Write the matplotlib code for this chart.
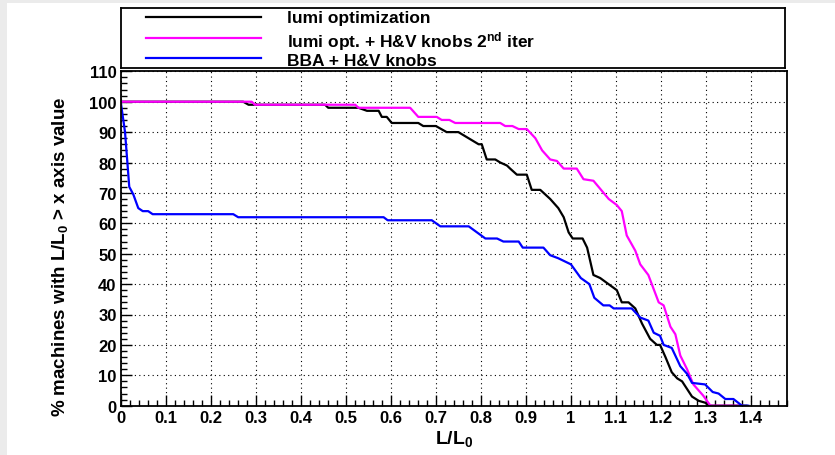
import numpy as np
import matplotlib.pyplot as plt
from matplotlib.patches import Rectangle
from matplotlib.ticker import MultipleLocator

plt.rcParams['font.family'] = ['Liberation Sans', 'DejaVu Sans']
plt.rcParams['font.weight'] = 'bold'
plt.rcParams['mathtext.fontset'] = 'custom'
plt.rcParams['mathtext.rm'] = 'Liberation Sans:bold'
plt.rcParams['mathtext.bf'] = 'Liberation Sans:bold'
plt.rcParams['mathtext.default'] = 'bf'

# lumi optimization
x_lumi = [0, 0.272, 0.284, 0.454, 0.461, 0.528, 0.547, 0.573, 0.58, 0.591, 0.602,
          0.661, 0.672, 0.700, 0.724, 0.75, 0.795, 0.802, 0.813, 0.832, 0.843, 0.858,
          0.865, 0.88, 0.902, 0.913, 0.932, 0.954, 0.972, 0.984, 0.995, 1.004, 1.026,
          1.036, 1.05, 1.065, 1.102, 1.113, 1.128, 1.143, 1.158, 1.176, 1.191, 1.198,
          1.21, 1.224, 1.236, 1.247, 1.269, 1.284, 1.298, 1.308, 1.39]
y_lumi = [100, 100, 99, 99, 98, 98, 97, 97, 95, 95, 93,
          93, 92, 92, 90, 90, 86, 86, 81, 81, 80, 79,
          78, 76, 76, 71, 71, 68, 65, 62, 57, 55, 55,
          52, 43, 42, 38, 34, 34, 32, 27, 22, 20, 20,
          16, 11, 9, 8, 3, 1.6, 1, 0, 0]

# lumi opt. + H&V knobs 2nd iter
x_iter2 = [0, 0.291, 0.298, 0.521, 0.528, 0.643, 0.661, 0.702, 0.713, 0.73, 0.743,
           0.843, 0.854, 0.87, 0.884, 0.902, 0.921, 0.936, 0.954, 0.969, 0.984, 1.013,
           1.028, 1.05, 1.084, 1.102, 1.113, 1.124, 1.143, 1.154, 1.172, 1.195, 1.206,
           1.221, 1.232, 1.243, 1.258, 1.272, 1.294, 1.31, 1.38]
y_iter2 = [100, 100, 99, 99, 98, 98, 95, 95, 94, 94, 93,
           93, 92, 92, 91, 91, 88, 84, 81, 80.5, 78, 78,
           74.5, 74, 68, 66, 64, 56, 51, 46.5, 43, 34, 33,
           26, 23.5, 16.5, 12, 7, 3.3, 0, 0]

# BBA + H&V knobs
x_bba = [0, 0.0096, 0.019, 0.028, 0.039, 0.049, 0.061, 0.071, 0.25, 0.261, 0.584,
         0.593, 0.691, 0.71, 0.773, 0.81, 0.836, 0.85, 0.884, 0.893, 0.939, 0.954,
         0.972, 1.0, 1.022, 1.041, 1.052, 1.072, 1.086, 1.095, 1.135, 1.154, 1.172,
         1.184, 1.198, 1.206, 1.224, 1.243, 1.258, 1.269, 1.298, 1.315, 1.328, 1.343,
         1.361, 1.38, 1.394]
y_bba = [100, 90, 72, 69.5, 65, 64, 64, 63, 63, 62, 62,
         61, 61, 59, 59, 55, 55, 54, 54, 52, 52, 49.5,
         48.5, 46.5, 42, 40, 35.5, 33, 33, 32, 32, 29, 28,
         24, 23, 20, 19, 13, 10.5, 7.5, 7, 4.5, 4, 2.2,
         2.2, 0, 0]

labels = ['lumi optimization',
          r'lumi opt. + H&V knobs 2$^{nd}$ iter',
          'BBA + H&V knobs']
colors = ['black', '#ff00ff', '#0000ff']

W, H = 835, 456
fig = plt.figure(figsize=(W / 100, H / 100), dpi=100)
fig.patch.set_facecolor('white')

# ROOT canvas edge
fig.add_artist(Rectangle((0, 0), 7 / W, 1, transform=fig.transFigure,
                         facecolor='#ebebeb', edgecolor='none', zorder=0))
fig.add_artist(Rectangle((0, 1 - 4 / H), 1, 4 / H, transform=fig.transFigure,
                         facecolor='#ebebeb', edgecolor='none', zorder=0))

left, right, bottom, top = 120.7, 787, 406.7, 72.3
ax = fig.add_axes([left / W, 1 - bottom / H, (right - left) / W, (bottom - top) / H])

series = [(x_lumi, y_lumi), (x_iter2, y_iter2), (x_bba, y_bba)]
for (xs, ys), c in zip(series, colors):
    ax.plot(xs, ys, color=c, linewidth=1.6)

ax.set_xlim(0, 1.48)
ax.set_ylim(0, 110)
ax.xaxis.set_major_locator(MultipleLocator(0.1))
ax.xaxis.set_minor_locator(MultipleLocator(0.02))
ax.yaxis.set_major_locator(MultipleLocator(10))
ax.yaxis.set_minor_locator(MultipleLocator(2))
ax.set_xticks(np.arange(0, 1.45, 0.1))
ax.set_xticklabels(['0', '0.1', '0.2', '0.3', '0.4', '0.5', '0.6', '0.7', '0.8',
                    '0.9', '1', '1.1', '1.2', '1.3', '1.4'])
ax.tick_params(which='both', direction='in', top=False, right=False,
               labelsize=12, width=1)
ax.tick_params(which='major', length=8, pad=3)
ax.tick_params(which='minor', length=4)
ax.grid(True, which='major', color='black', linestyle=(0, (1, 3)), linewidth=0.8)
for s in ax.spines.values():
    s.set_linewidth(1.3)

ax.set_xlabel('L/L$_{0}$', fontsize=14, fontweight='bold')
ax.set_ylabel('% machines with L/L$_{0}$ > x axis value', fontsize=13.5,
              fontweight='bold')
ax.xaxis.set_label_coords(0.5, -0.068)
ax.yaxis.set_label_coords(-0.076, 0.448)

# legend box
lx0, lx1, ly0, ly1 = 121, 785, 9, 69
lax = fig.add_axes([lx0 / W, 1 - ly1 / H, (lx1 - lx0) / W, (ly1 - ly0) / H])
lax.set_xlim(lx0, lx1)
lax.set_ylim(ly1, ly0)
lax.set_xticks([])
lax.set_yticks([])
for s in lax.spines.values():
    s.set_linewidth(1.3)
line_y = [18, 39, 59]
text_y = [18, 42, 62]
for lab, c, ly, ty in zip(labels, colors, line_y, text_y):
    lax.plot([146, 261], [ly, ly], color=c, linewidth=1.6)
    lax.text(287, ty, lab, fontsize=12.5, fontweight='bold', va='center', ha='left')

fig.savefig('out.png', dpi=100)
